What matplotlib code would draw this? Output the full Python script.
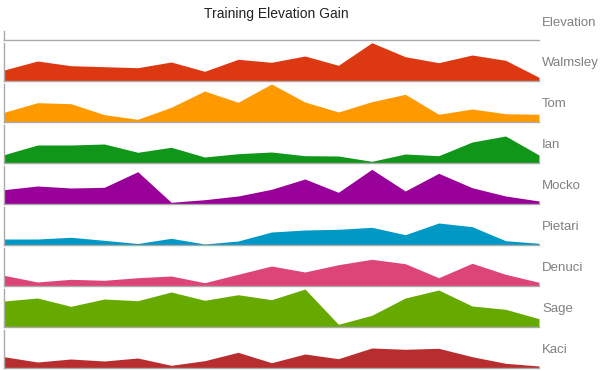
import numpy as np
import matplotlib.pyplot as plt

plt.rcParams['font.family'] = ['Liberation Sans', 'DejaVu Sans']

# weekly elevation gain (ft), 17 weeks per runner
runners = ['Walmsley', 'Tom', 'Ian', 'Mocko', 'Pietari', 'Denuci', 'Sage', 'Kaci']
colors = ['#dc3912', '#ff9900', '#109618', '#990099',
          '#0099c6', '#dd4477', '#66aa00', '#b82e2e']

walmsley = [1100, 2000, 1530, 1430, 1330, 1900, 970, 2170, 1870, 2500, 1570, 3830, 2430, 1830, 2600, 2070, 370]
tom = [970, 1930, 1830, 730, 270, 1470, 3100, 1970, 3800, 2000, 1000, 2030, 2770, 770, 1300, 830, 770]
ian = [830, 1800, 1800, 1900, 1070, 1570, 600, 930, 1100, 730, 700, 170, 900, 730, 2100, 2700, 800]
mocko = [1430, 1800, 1600, 1670, 3230, 170, 430, 800, 1470, 2500, 1170, 3470, 1300, 3070, 1630, 800, 300]
pietari = [600, 600, 770, 470, 150, 670, 100, 400, 1300, 1500, 1570, 1770, 1030, 2200, 1830, 430, 170]
denuci = [1070, 400, 670, 570, 830, 1000, 330, 1170, 2000, 1400, 2130, 2670, 2230, 830, 2270, 1170, 370]
sage = [2600, 2900, 2070, 2800, 2630, 3500, 2670, 3230, 2730, 3800, 270, 1170, 2900, 3700, 2100, 1770, 830]
kaci = [1130, 600, 900, 700, 1000, 270, 730, 1570, 530, 1400, 930, 2000, 1870, 1970, 1130, 470, 200]

series = [walmsley, tom, ian, mocko, pietari, denuci, sage, kaci]
weeks = np.arange(len(walmsley))

W, H = 600, 371
fig = plt.figure(figsize=(6, 3.71), dpi=100)

left = 4 / W
width = 535 / W
spine_col = '#aaaaaa'
label_col = '#808080'


def style(ax):
    for s in ['top', 'right']:
        ax.spines[s].set_visible(False)
    for s in ['left', 'bottom']:
        ax.spines[s].set_color(spine_col)
        ax.spines[s].set_linewidth(1)
    ax.set_xticks([])
    ax.set_yticks([])
    ax.set_xlim(weeks[0], weeks[-1])


# header row
hdr = fig.add_axes([left, 1 - 40 / H, width, 8.6 / H])
style(hdr)
fig.text(542 / W, 1 - 26 / H, 'Elevation', fontsize=9.5, color=label_col, va='baseline')

for i, (name, vals, col) in enumerate(zip(runners, series, colors)):
    base = 81 + 41 * i
    ax = fig.add_axes([left, 1 - base / H, width, 38 / H])
    style(ax)
    ax.set_ylim(0, 3800)
    ax.fill_between(weeks, 0, vals, color=col, linewidth=0, clip_on=False)
    fig.text(542 / W, 1 - (base - 15.3) / H, name, fontsize=9.5, color=label_col, va='baseline')

fig.text(276 / W, 1 - 17.7 / H, 'Training Elevation Gain', fontsize=10,
         color='#222222', ha='center', va='baseline')

fig.savefig('out.png', dpi=100)
